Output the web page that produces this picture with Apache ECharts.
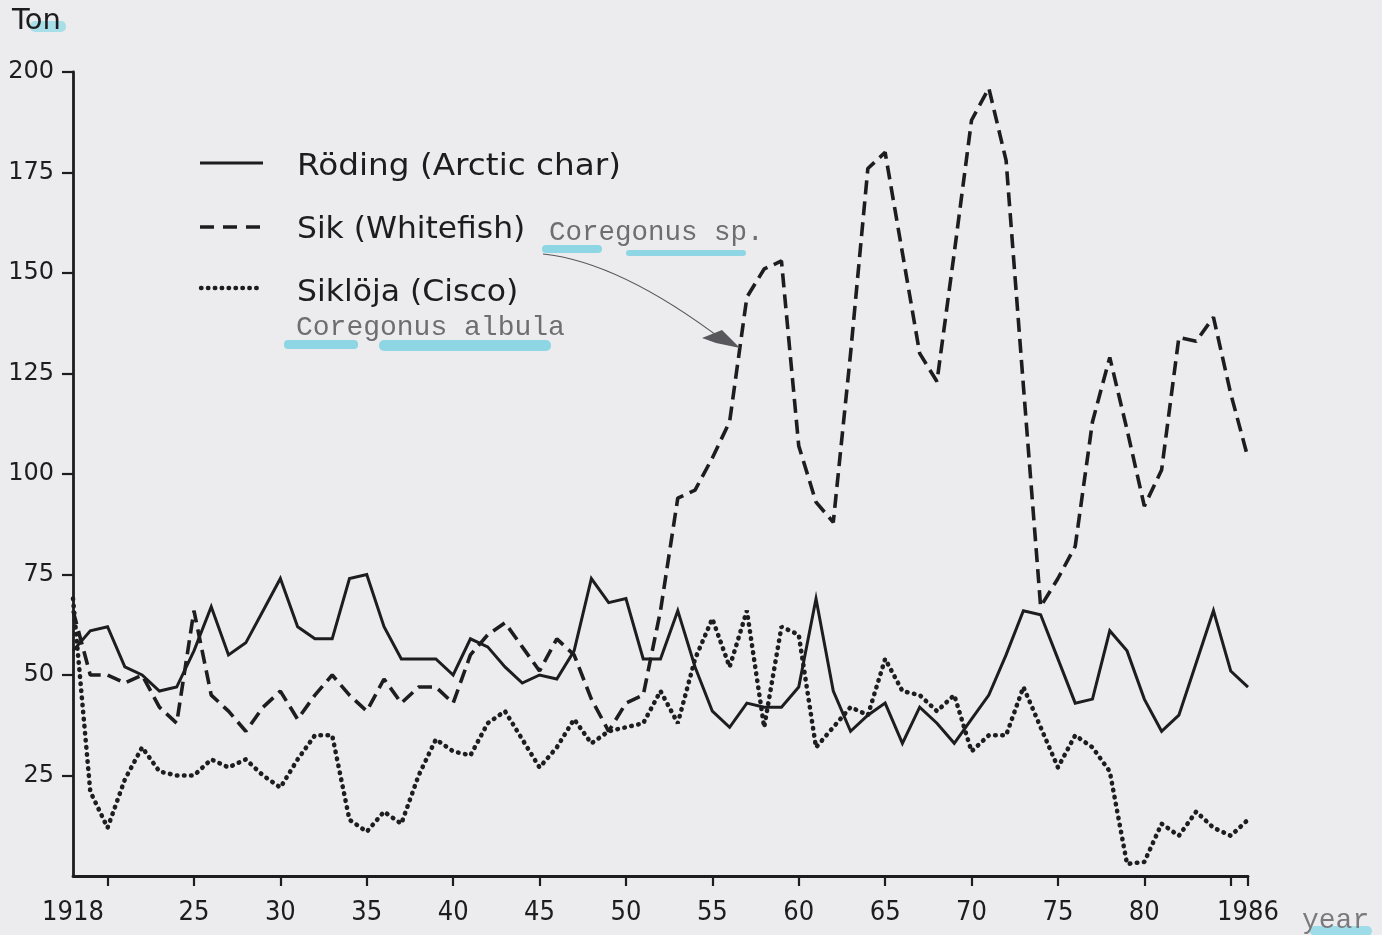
<!DOCTYPE html>
<html>
<head>
<meta charset="utf-8">
<script src="https://cdn.jsdelivr.net/npm/echarts@6/dist/echarts.min.js"></script>
<style>
html,body{margin:0;padding:0;background:#ececee;}
#chart{width:1382px;height:935px;}
</style>
</head>
<body>
<div id="chart"></div>
<script>
// ---- data ----
const years = [];
for (let y = 1918; y <= 1986; y++) years.push(String(y));

const rodingValues = [56,61,62,52,50,46,47,56,67,55,58,66,74,62,59,59,74,75,62,54,54,54,50,59,57,52,48,50,49,56,74,68,69,54,54,66,52,41,37,43,42,42,47,69,46,36,40,43,33,42,38,33,39,45,55,66,65,54,43,44,61,56,44,36,40,53,66,51,47];
const sikValues = [66,50,50,48,50,42,38,66,45,41,36,42,46,39,45,50,45,41,49,43,47,47,43,55,60,63,57,51,59,55,44,36,43,45,66,94,96,104,113,144,151,153,107,93,88,130,176,180,155,130,123,155,188,196,178,122,67,74,82,113,129,111,92,101,134,133,139,120,104];
const siklojaValues = [69,21,12,24,32,26,25,25,29,27,29,25,22,29,35,35,14,11,16,13,25,34,31,30,38,41,34,27,32,39,33,36,37,38,46,38,54,64,52,66,37,62,60,32,37,42,40,54,46,45,41,45,31,35,35,47,37,27,35,32,26,3,3.5,13,10,16,12,10,14];

const xLabelYears = ['1918','1925','1930','1935','1940','1945','1950','1955','1960','1965','1970','1975','1980','1986'];
const xTickYears = ['1920','1925','1930','1935','1940','1945','1950','1955','1960','1965','1970','1975','1980','1985','1986'];
const seriesNames = ['Röding (Arctic char)', 'Sik (Whitefish)', 'Siklöja (Cisco)'];

const INK = '#1d1d1f';
const chart = echarts.init(document.getElementById('chart'));

const LEG_FONT = '"DejaVu Sans", sans-serif';
function legText(text, x, y, sx) {
  return {type: 'text', x: x, y: y, scaleX: sx, z: 10,
    style: {text: text, fontFamily: LEG_FONT, fontSize: 30, fill: INK, align: 'left', verticalAlign: 'top'}};
}

const option = {
  backgroundColor: '#ececee',
  animation: false,
  grid: {left: 73, right: 134, top: 72, bottom: 59, containLabel: false},
  xAxis: {
    type: 'category',
    data: years,
    boundaryGap: false,
    axisLine: {lineStyle: {color: INK, width: 2.8}},
    axisTick: {
      show: true, length: 10, inside: false,
      interval: (i, v) => xTickYears.indexOf(v) >= 0,
      lineStyle: {color: INK, width: 2.2}
    },
    axisLabel: {
      interval: (i, v) => xLabelYears.indexOf(v) >= 0,
      formatter: v => (v === '1918' || v === '1986') ? v : v.slice(2),
      fontFamily: '"DejaVu Sans Condensed", "DejaVu Sans", sans-serif',
      fontSize: 27, color: INK, margin: 23
    },
    splitLine: {show: false}
  },
  yAxis: {
    type: 'value', min: 0, max: 200, interval: 25,
    axisLine: {show: true, lineStyle: {color: INK, width: 2.8}},
    axisTick: {show: true, length: 11, inside: false, lineStyle: {color: INK, width: 2.2}},
    axisLabel: {
      fontFamily: '"DejaVu Sans", sans-serif', fontSize: 24, color: INK, margin: 19,
      showMinLabel: false
    },
    splitLine: {show: false}
  },
  series: [
    {
      name: seriesNames[0], type: 'line', data: rodingValues, symbol: 'none',
      lineStyle: {color: INK, width: 3, type: 'solid', join: 'miter'}
    },
    {
      name: seriesNames[1], type: 'line', data: sikValues, symbol: 'none',
      lineStyle: {color: INK, width: 3.6, type: [14, 7]}
    },
    {
      name: seriesNames[2], type: 'line', data: siklojaValues, symbol: 'none',
      lineStyle: {color: INK, width: 4.6, type: [0.5, 6.6], cap: 'round'}
    }
  ],
  graphic: [
    // highlighter marks
    {type: 'rect', shape: {x: 30, y: 21, width: 36, height: 11, r: 5}, style: {fill: '#8ad8e6', opacity: 0.7}, z: 1},
    {type: 'rect', shape: {x: 542, y: 245, width: 60, height: 8, r: 4}, style: {fill: '#7fd2e2', opacity: 0.85}, z: 1},
    {type: 'rect', shape: {x: 626, y: 250, width: 120, height: 6, r: 3}, style: {fill: '#7fd2e2', opacity: 0.85}, z: 1},
    {type: 'rect', shape: {x: 284, y: 340, width: 74, height: 9, r: 4}, style: {fill: '#7fd2e2', opacity: 0.85}, z: 1},
    {type: 'rect', shape: {x: 379, y: 340, width: 172, height: 11, r: 5}, style: {fill: '#7fd2e2', opacity: 0.85}, z: 1},
    {type: 'rect', shape: {x: 1310, y: 926, width: 62, height: 10, r: 5}, style: {fill: '#8ad8e6', opacity: 0.8}, z: 1},
    // Ton
    {type: 'text', left: 12, top: 7, z: 10, style: {text: 'Ton', fontFamily: '"DejaVu Sans", sans-serif', fontSize: 29, fill: INK}},
    // year
    {type: 'text', left: 1302, top: 907, z: 10, style: {text: 'year', fontFamily: '"Liberation Mono", monospace', fontSize: 28, fill: '#7a7a7e'}},
    // legend samples
    {type: 'line', shape: {x1: 200, y1: 163, x2: 263, y2: 163}, style: {stroke: INK, lineWidth: 3}, z: 10},
    {type: 'line', shape: {x1: 200, y1: 227, x2: 263, y2: 227}, style: {stroke: INK, lineWidth: 3.4, lineDash: [14, 9]}, z: 10},
    {type: 'line', shape: {x1: 201, y1: 288, x2: 258, y2: 288}, style: {stroke: INK, lineWidth: 4.4, lineDash: [0.5, 6.4], lineCap: 'round'}, z: 10},
    // legend text
    legText(seriesNames[0], 297, 152, 1.09),
    legText(seriesNames[1], 297, 215, 1.045),
    legText(seriesNames[2], 297, 278, 1.05),
    {type: 'text', left: 549, top: 219, z: 10, style: {text: 'Coregonus sp.', fontFamily: '"Liberation Mono", monospace', fontSize: 27.5, fill: '#6e6e72'}},
    {type: 'text', left: 296, top: 314, z: 10, style: {text: 'Coregonus albula', fontFamily: '"Liberation Mono", monospace', fontSize: 28, fill: '#6e6e72'}},
    // pencil arrow
    {type: 'bezierCurve', shape: {x1: 543, y1: 254, x2: 724, y2: 341, cpx1: 620, cpy1: 262}, style: {stroke: '#55555a', lineWidth: 1.2, fill: null}, z: 10},
    {type: 'polygon', shape: {points: [[702, 338], [722, 330], [740, 348], [716, 343]]}, style: {fill: '#58585c'}, z: 10}
  ]
};
chart.setOption(option);
</script>
</body>
</html>
